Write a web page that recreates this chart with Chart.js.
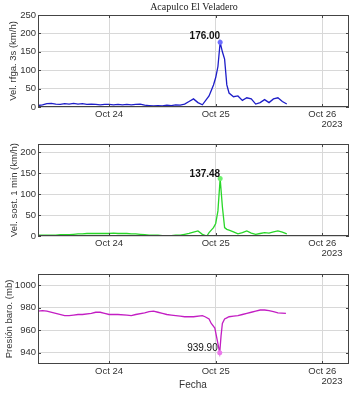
<!DOCTYPE html>
<html><head><meta charset="utf-8">
<script src="https://cdn.jsdelivr.net/npm/chart.js@4"></script>
<style>
html,body{margin:0;padding:0;background:#fff;}
canvas{display:block;}
</style></head>
<body>
<canvas id="c1" width="356" height="130"></canvas>
<canvas id="c2" width="356" height="130"></canvas>
<canvas id="c3" width="356" height="134"></canvas>
<script>
// hours since Oct 23 00:00
const hours = [8,9,10,11,12,13,14,15,16,17,18,19,20,21,22,23,24,25,26,27,28,29,30,31,32,33,34,35,36,37,38,39,40,41,42,43,44,45,46,46.5,47,47.5,48,48.5,49,49.5,50,50.5,51,52,53,54,55,56,57,58,59,60,61,62,63,64];
const gust = [4,6,9,10,8,7,9,8,10,8,9,7,8,7,6,7,7,6,7,6,7,6,7,8,5,4,3,4,3,5,4,6,5,8,15,22,12,6,22,30,45,60,80,110,176,150,130,60,38,28,30,18,25,22,8,12,20,12,22,25,15,8];
const sust = [2,2,2,2,2,3,3,3,4,5,5,6,6,6,6,6,6,7,6,6,6,5,5,4,3,2,2,2,1,1,1,2,2,4,6,9,12,4,0,8,14,20,30,60,137.48,70,20,16,14,10,5,8,12,7,4,6,8,7,10,12,9,5];
const pres = [977,977.5,977,975,973,973,973.5,974,974,975,976,976,975,974,974,974,973.5,973,974,975.5,976.5,977,976,975,974,973.5,973,972.5,972,972,973,972,970,966,962,940,955,966,970,971,972,972.5,973,974,975,976,977,978,978,977.5,976.5,975.5,975];
const presHours = [8,9,10,12,14,15,16,17,18,20,21,22,23,24,25,26,28,29,30,32,33,34,35,36,37,38,39,40,41,43,45,45.6,46.5,47,47.8,48.9,49.2,49.5,50,50.5,51,52,53,54,55,56,57,58,59,60,61,62,63.8];
const xTicks = [24,48,72];
const xTickLabels = ['Oct 24','Oct 25','Oct 26'];
const yTicks1 = [0,50,100,150,200,250];
const yTicks2 = [0,50,100,150,200];
const yTicks3 = [940,960,980,1000];
const titleText = 'Acapulco El Veladero';
const yTitles = ['Vel. rfga. 3s (km/h)','Vel. sost. 1 min (km/h)','Presión baro. (mb)'];
const peakLabels = ['176.00','137.48','939.90'];

const FONT = 'Liberation Sans, Arial, sans-serif';

function makeChart(id, xs, ys, color, markColor, ymin, ymax, yt, opts){
  const ctx = document.getElementById(id).getContext('2d');
  const data = xs.map((x,i)=>({x:x,y:ys[i]}));
  const plugin = {
    id:'extra'+id,
    afterDraw(chart){
      const c = chart.ctx, a = chart.chartArea;
      const xs_ = chart.scales.x, ys_ = chart.scales.y;
      c.save();
      c.strokeStyle='#444'; c.lineWidth=1;
      c.strokeRect(Math.round(a.left)+0.5, Math.round(a.top)+0.5, Math.round(a.right-a.left)-1, Math.round(a.bottom-a.top)-1);
      c.beginPath();
      xTicks.forEach(v=>{const p=Math.round(xs_.getPixelForValue(v))+0.5; c.moveTo(p,a.bottom); c.lineTo(p,a.bottom-3); c.moveTo(p,a.top); c.lineTo(p,a.top+3);});
      yt.forEach(v=>{const p=Math.round(ys_.getPixelForValue(v))+0.5; c.moveTo(a.left,p); c.lineTo(a.left+3,p); c.moveTo(a.right,p); c.lineTo(a.right-3,p);});
      c.stroke();
      const pi = opts.peakIndex;
      const px = xs_.getPixelForValue(xs[pi]), py = ys_.getPixelForValue(ys[pi]);
      c.fillStyle = markColor;
      c.beginPath(); c.arc(px,py,2.5,0,Math.PI*2); c.fill();
      c.fillStyle='#111';
      c.font = (opts.bold?'bold ':'')+'10px '+FONT;
      c.textAlign='right'; c.textBaseline='alphabetic';
      c.fillText(opts.label, px+opts.lx, py+opts.ly);
      c.save();
      c.translate(opts.ytx, (a.top+a.bottom)/2);
      c.rotate(-Math.PI/2);
      c.font='9.5px '+FONT; c.fillStyle='#333'; c.textAlign='center'; c.textBaseline='middle';
      c.fillText(opts.ytitle,0,0);
      c.restore();
      c.font='9.5px '+FONT; c.fillStyle='#333'; c.textAlign='center'; c.textBaseline='middle';
      c.fillText('2023', 332, a.bottom+17);
      if(opts.fecha){ c.font='10px '+FONT; c.fillText('Fecha', 193, a.bottom+21); }
      if(opts.title){ c.font='10px Liberation Serif, Times New Roman, serif'; c.fillStyle='#222'; c.fillText(titleText, 194, 7); }
      c.restore();
    }
  };
  return new Chart(ctx,{
    type:'line',
    data:{datasets:[{data:data,borderColor:color,borderWidth:1.3,pointRadius:0,tension:0,fill:false}]},
    options:{
      responsive:false,animation:false,devicePixelRatio:1,
      layout:{padding:{left:0,right:7,top:opts.top,bottom:0}},
      plugins:{legend:{display:false},tooltip:{enabled:false},title:{display:false}},
      scales:{
        x:{type:'linear',min:8,max:78,
          afterBuildTicks(s){s.ticks=xTicks.map(v=>({value:v}));},
          afterFit(s){s.height=opts.xh;},
          ticks:{callback:(v)=>xTickLabels[xTicks.indexOf(v)],font:{family:FONT,size:9.5},color:'#333',padding:2,maxRotation:0,autoSkip:false},
          grid:{color:'#d8d8d8',lineWidth:1,drawTicks:false},
          border:{display:false}
        },
        y:{type:'linear',min:ymin,max:ymax,
          afterBuildTicks(s){s.ticks=yt.map(v=>({value:v}));},
          afterFit(s){s.width=38;},
          ticks:{callback:(v)=>String(v),font:{family:FONT,size:9.5},color:'#333',padding:2},
          grid:{color:'#d8d8d8',lineWidth:1,drawTicks:false},
          border:{display:false}
        }
      }
    },
    plugins:[plugin]
  });
}
makeChart('c1',hours,gust,'rgb(30,30,200)','rgb(110,110,255)',0,250,yTicks1,
  {peakIndex:gust.indexOf(176),label:peakLabels[0],bold:true,lx:0,ly:-3,ytx:13,ytitle:yTitles[0],top:15,xh:23,title:true});
makeChart('c2',hours,sust,'rgb(40,215,40)','rgb(110,240,110)',0,220,yTicks2,
  {peakIndex:sust.indexOf(137.48),label:peakLabels[1],bold:true,lx:0,ly:-2,ytx:14,ytitle:yTitles[1],top:14,xh:24});
makeChart('c3',presHours,pres,'rgb(195,30,195)','rgb(235,120,235)',930,1010,yTicks3,
  {peakIndex:pres.indexOf(940),label:peakLabels[2],bold:false,lx:-2,ly:-2,ytx:9,ytitle:yTitles[2],top:14,xh:30,fecha:true});
</script>
</body></html>
